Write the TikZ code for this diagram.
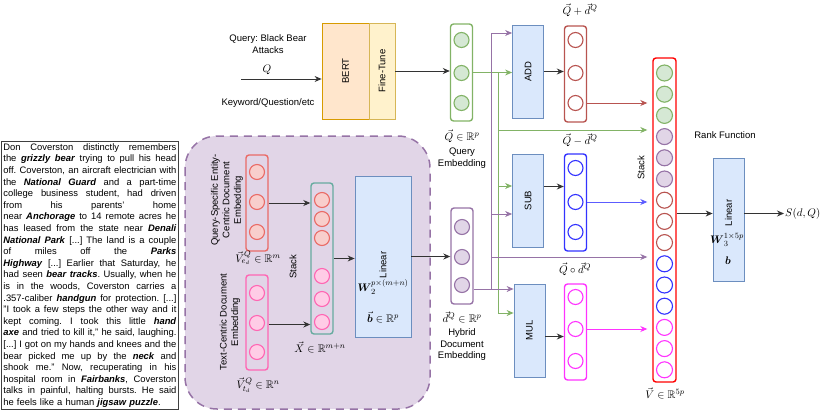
\documentclass[tikz,border=0pt]{standalone}
\usepackage[no-math]{fontspec}
\setmainfont{Liberation Sans}
\usepackage{amsmath,amssymb}
\usetikzlibrary{arrows.meta}
\frenchspacing

\definecolor{qgreen}{HTML}{82B366}
\definecolor{qfill}{HTML}{D5E8D4}
\definecolor{dpurple}{HTML}{9673A6}
\definecolor{dfill}{HTML}{E1D5E7}
\definecolor{ered}{HTML}{EA6B66}
\definecolor{efill}{HTML}{F8CECC}
\definecolor{tpink}{HTML}{FF66B3}
\definecolor{tfill}{HTML}{FFCCE6}
\definecolor{xteal}{HTML}{67AB9F}
\definecolor{lblue}{HTML}{6C8EBF}
\definecolor{lfill}{HTML}{DAE8FC}
\definecolor{addred}{HTML}{B85450}
\definecolor{subblue}{HTML}{3333FF}
\definecolor{mulpink}{HTML}{FF33FF}
\definecolor{bertline}{HTML}{D79B00}
\definecolor{bertfill}{HTML}{FFE6CC}
\definecolor{tuneline}{HTML}{D6B656}
\definecolor{tunefill}{HTML}{FFF2CC}
\definecolor{arrgray}{HTML}{333333}

% one justified line of the document text
\newcommand\jline[1]{\leavevmode\hbox to 173pt{\spaceskip=0.278em plus 1fil minus 0.05em\relax #1}}
\newcommand\kw[1]{\textbf{\textit{#1}}}

\tikzset{
  vecbox/.style={draw=#1, line width=1.4pt, rounded corners=3pt, minimum width=22pt, inner sep=0pt},
  unit/.style 2 args={circle, draw=#1, fill=#2, line width=1.1pt, minimum size=15pt, inner sep=0pt},
  cellq/.style={unit={qgreen}{qfill}},
  celld/.style={unit={dpurple}{dfill}},
  celle/.style={unit={ered}{efill}},
  cellt/.style={unit={tpink}{tfill}},
  celladd/.style={unit={addred}{white}},
  cellsub/.style={unit={subblue}{white}},
  cellmul/.style={unit={mulpink}{white}},
  opbox/.style={draw=lblue, fill=lfill, line width=0.8pt, minimum width=31pt, inner sep=0pt},
  lbl/.style={font=\fontsize{9.5}{11.5}\selectfont, align=center, inner sep=1pt},
  mlbl/.style={font=\fontsize{11}{13}\selectfont, inner sep=1pt},
  arr/.style={draw=#1, line width=0.9pt, -{Stealth[length=7pt,width=6pt]}},
  arr/.default=arrgray,
  branch/.style={draw=#1, line width=0.9pt},
}

\begin{document}
\begin{tikzpicture}[x=1pt,y=-1pt]
\useasboundingbox (0,0) rectangle (830,416);

% hybrid document embedding group
\draw[dpurple, fill=dfill, line width=1.5pt, dash pattern=on 8pt off 6pt, rounded corners=32pt] (185,136) rectangle (430,409);

% document text
\node[draw=black!75, line width=0.8pt, inner sep=2pt, text width=173pt, align=left, anchor=north west,
      font=\fontsize{9.4}{11.6}\selectfont] (doc) at (1,141) {%
\jline{Don Coverston distinctly remembers}\\
\jline{the \kw{grizzly bear} trying to pull his head}\\
\jline{off. Coverston, an aircraft electrician with}\\
\jline{the \kw{National Guard} and a part-time}\\
\jline{college business student, had driven}\\
\jline{from his parents' home}\\
\jline{near \kw{Anchorage} to 14 remote acres he}\\
\jline{has leased from the state near \kw{Denali}}\\
\jline{\kw{National Park} [...] The land is a couple}\\
\jline{of miles off the \kw{Parks}}\\
\jline{\kw{Highway} [...] Earlier that Saturday, he}\\
\jline{had seen \kw{bear tracks}. Usually, when he}\\
\jline{is in the woods, Coverston carries a}\\
\jline{.357-caliber \kw{handgun} for protection. [...]}\\
\jline{"I took a few steps the other way and it}\\
\jline{kept coming. I took this little \kw{hand}}\\
\jline{\kw{axe} and tried to kill it," he said, laughing.}\\
\jline{[...] I got on my hands and knees and the}\\
\jline{bear picked me up by the \kw{neck} and}\\
\jline{shook me." Now, recuperating in his}\\
\jline{hospital room in \kw{Fairbanks}, Coverston}\\
\jline{talks in painful, halting bursts. He said}\\
\leavevmode\hbox{he feels like a human \kw{jigsaw puzzle}.}};

% query encoder
\node[lbl] (qtext) at (268,44) {Query: Black Bear\\Attacks};
\node[mlbl] (qsym) at (267,70) {$Q$};
\node[lbl] (qkind) at (268,103) {Keyword/Question/etc};
\node[draw=bertline, fill=bertfill, line width=0.8pt, minimum width=47pt, minimum height=96pt, inner sep=0pt] (bert) at (345.5,71) {};
\node[lbl, rotate=90] at (bert) {BERT};
\node[draw=tuneline, fill=tunefill, line width=0.8pt, minimum width=26pt, minimum height=96pt, inner sep=0pt] (tune) at (382,71) {};
\node[lbl, rotate=90] at (tune) {Fine-Tune};
\coordinate (qin) at (241,79);
\draw[arr] (qin) -- (qin -| bert.west);

% query embedding
\node[vecbox=qgreen, minimum height=97pt] (qvec) at (461.5,72.5) {};
\foreach \y [count=\i] in {40,73,103}
  \node[cellq] (q\i) at (461.5,\y) {};
\node[mlbl] (qlab) at (462,136) {$\vec{Q}\in\mathbb{R}^p$};
\node[lbl] (qname) at (462,158) {Query\\Embedding};
\draw[arr] (tune.east) -- (tune.east -| qvec.west);

% entity and text embeddings
\node[vecbox=ered, minimum height=96pt] (evec) at (257,203) {};
\foreach \y [count=\i] in {172,202,232}
  \node[celle] (e\i) at (257,\y) {};
\node[lbl, rotate=90] (ename) at (227,200) {Query-Specific Entity-\\Centric Document\\Embedding};
\node[mlbl] (elab) at (258,258) {$\vec{V}_{e_d}^{Q}\in\mathbb{R}^m$};

\node[vecbox=tpink, minimum height=95pt] (tvec) at (257,322.5) {};
\foreach \y [count=\i] in {293,323,352}
  \node[cellt] (t\i) at (257,\y) {};
\node[lbl, rotate=90] (tname) at (230,322) {Text-Centric Document\\Embedding};
\node[mlbl] (tlab) at (258,385) {$\vec{V}_{t_d}^{Q}\in\mathbb{R}^n$};

% stacked input
\node[vecbox=xteal, minimum height=151pt] (xvec) at (322,258.5) {};
\foreach \y [count=\i] in {200,219,238}
  \node[celle] (x\i) at (322,\y) {};
\foreach \y [count=\i from 4] in {276,299,322}
  \node[cellt] (x\i) at (322,\y) {};
\node[lbl, rotate=90] (xstack) at (293,267) {Stack};
\node[mlbl] (xlab) at (320,347) {$\vec{X}\in\mathbb{R}^{m+n}$};
\draw[arr] (evec.east) -- (evec.east -| xvec.west);
\draw[arr] ([yshift=-2pt]tvec.east) -- ([yshift=-2pt]tvec.east -| xvec.west);

% hybrid linear layer
\node[opbox, minimum width=56pt, minimum height=161pt] (lin2) at (383,256.5) {};
\node[lbl, rotate=90] at (383,265) {Linear};
\node[mlbl] at (383,287) {$\boldsymbol{W}_2^{p\times(m+n)}$};
\node[mlbl] at (383,317) {$\vec{\boldsymbol{b}}\in\mathbb{R}^p$};
\draw[arr] (xvec.east) -- (xvec.east -| lin2.west);

% hybrid document embedding
\node[vecbox=dpurple, minimum height=96pt] (dvec) at (462,256) {};
\foreach \y [count=\i] in {227,257,285}
  \node[celld] (d\i) at (462,\y) {};
\node[mlbl] (dlab) at (462,317) {$\vec{d}^{Q}\in\mathbb{R}^p$};
\node[lbl] (dname) at (462,345) {Hybrid\\Document\\Embedding};
\draw[arr] (lin2.east) -- (lin2.east -| dvec.west);

% interaction operators
\node[opbox, minimum height=93pt] (add) at (528,71.5) {};
\node[lbl, rotate=90] at (add) {ADD};
\node[opbox, minimum height=93pt] (sub) at (528,200.5) {};
\node[lbl, rotate=90] at (sub) {SUB};
\node[opbox, minimum height=93pt] (mul) at (529.5,330.5) {};
\node[lbl, rotate=90] at (mul) {MUL};

% query branches
\coordinate (glong) at (498,130);
\coordinate (gsub) at (498,186);
\coordinate (gmul) at (498,313);
\draw[branch=qgreen] (qvec.east -| gmul) -- (gmul);
\draw[arr=qgreen] (qvec.east) -- (qvec.east -| add.west);
\draw[arr=qgreen] (gsub) -- (gsub -| sub.west);
\draw[arr=qgreen] (gmul) -- (gmul -| mul.west);

% document branches
\coordinate (ptop) at (491,33);
\coordinate (psub) at (491,214);
\coordinate (plong) at (491,257);
\coordinate (pmul) at (491,289);
\draw[branch=dpurple] (pmul) -- (ptop);
\draw[arr=dpurple] (dvec.east |- pmul) -- (pmul -| mul.west);
\draw[arr=dpurple] (ptop) -- (ptop -| add.west);
\draw[arr=dpurple] (psub) -- (psub -| sub.west);

% operator outputs
\node[vecbox=addred, minimum height=96pt] (addvec) at (575.5,74) {};
\foreach \y [count=\i] in {40,73,103}
  \node[celladd] (a\i) at (575.5,\y) {};
\node[mlbl] (addlab) at (580,10) {$\vec{Q}+\vec{d}^{Q}$};
\node[vecbox=subblue, minimum height=97pt] (subvec) at (575.5,202.5) {};
\foreach \y [count=\i] in {168,202,232}
  \node[cellsub] (s\i) at (575.5,\y) {};
\node[mlbl] (sublab) at (580,140) {$\vec{Q}-\vec{d}^{Q}$};
\node[vecbox=mulpink, minimum height=96pt] (mulvec) at (575.5,332) {};
\foreach \y [count=\i] in {297,329,361}
  \node[cellmul] (m\i) at (575.5,\y) {};
\node[mlbl] (mullab) at (575,269) {$\vec{Q}\circ\vec{d}^{Q}$};
\draw[arr] (add.east) -- (add.east -| addvec.west);
\draw[arr] ([yshift=14pt]sub.east) -- ([yshift=14pt]sub.east -| subvec.west);
\draw[arr] ([yshift=-6pt]mul.east) -- ([yshift=-6pt]mul.east -| mulvec.west);

% final stack
\node[vecbox=red, minimum width=23pt, minimum height=324pt] (vstack) at (664.5,220) {};
\foreach \c [count=\i] in {q,q,q,d,d,d,add,add,add,sub,sub,sub,mul,mul,mul}
  \node[cell\c, minimum size=16pt] (v\i) at (664.5,{73+(\i-1)*21.2}) {};
\node[lbl, rotate=90] (vstacktxt) at (641,168) {Stack};
\node[mlbl] (vlab) at (665,393) {$\vec{V}\in\mathbb{R}^{5p}$};
\draw[arr=addred, shorten >=5pt] (a3 -| addvec.east) -- (a3 -| vstack.west);
\draw[arr=qgreen, shorten >=5pt] (glong) -- (glong -| vstack.west);
\draw[arr=subblue!80, shorten >=5pt] (s2 -| subvec.east) -- (s2 -| vstack.west);
\draw[arr=dpurple, shorten >=5pt] (plong) -- (plong -| vstack.west);
\draw[arr=mulpink, shorten >=5pt] (m2 -| mulvec.east) -- (m2 -| vstack.west);

% rank function
\node[lbl] (rank) at (725,135) {Rank Function};
\node[opbox, minimum height=123pt] (lin3) at (728.5,219.5) {};
\node[lbl, rotate=90] at (728.5,213) {Linear};
\node[mlbl] at (727,240) {$\boldsymbol{W}_3^{1\times5p}$};
\node[mlbl] at (728,261) {$\boldsymbol{b}$};
\coordinate (rankin) at ([yshift=6pt]lin3.west);
\coordinate (rankout) at ([yshift=6pt]lin3.east);
\node[mlbl, anchor=west] (score) at (784,213.5) {$S(d,Q)$};
\draw[arr] (rankin -| vstack.east) -- (rankin);
\draw[arr] (rankout) -- (rankout -| score.west);
\end{tikzpicture}
\end{document}
